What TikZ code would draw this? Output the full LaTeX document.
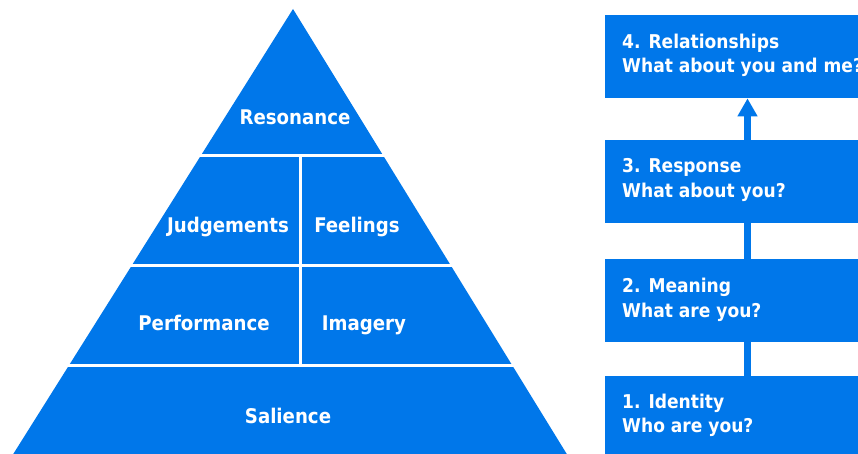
\documentclass[tikz,border=0pt]{standalone}
\usepackage{fontspec}
\setmainfont{DejaVu Sans Condensed}
\usetikzlibrary{arrows.meta}
\definecolor{pblue}{RGB}{0,119,234}
\tikzset{
  x=1pt,y=-1pt,
  gap/.style={draw=white,line width=3pt},
  plabel/.style={text=white,font=\bfseries\fontsize{20.2}{24}\selectfont,inner sep=0pt,anchor=base},
  stage/.style={fill=pblue,draw=none,anchor=north west,minimum width=265pt,inner sep=0pt},
  stagetext/.style={text=white,font=\bfseries\fontsize{19}{24.5}\selectfont,inner sep=0pt,anchor=base west,align=left},
  conn/.style={draw=pblue,line width=7pt},
}
\begin{document}
\begin{tikzpicture}
\useasboundingbox (0,0) rectangle (858,454);
\clip (0,0) rectangle (858,454);
\fill[white] (0,0) rectangle (858,454);
% pyramid
\fill[pblue] (293,9) -- (568,456) -- (12,456) -- cycle;
\draw[gap] (150,155.5) -- (440,155.5);
\draw[gap] (100,265) -- (480,265);
\draw[gap] (40,365) -- (540,365);
\draw[gap] (300,155.5) -- (300,365);
\node[plabel] (res) at (295,125) {Resonance};
\node[plabel] (jud) at (228,233) {Judgements};
\node[plabel] (fee) at (357,233) {Feelings};
\node[plabel] (per) at (204,330) {Performance};
\node[plabel] (ima) at (364,330) {Imagery};
\node[plabel] (sal) at (288,423) {Salience};
% stages
\node[stage,minimum height=83pt] (b4) at (605,15) {};
\node[stage,minimum height=83pt] (b3) at (605,140) {};
\node[stage,minimum height=83pt] (b2) at (605,259) {};
\node[stage,minimum height=90pt] (b1) at (605,376) {};
\node[stagetext] (t4) at (622,73) {4. Relationships\\What about you and me?};
\node[stagetext] (t3) at (622,197) {3. Response\\What about you?};
\node[stagetext] (t2) at (622,317) {2. Meaning\\What are you?};
\node[stagetext] (t1) at (622,432.5) {1. Identity\\Who are you?};
\coordinate (cx) at (747.5,0);
\draw[conn] (cx |- b1.north) -- (cx |- b2.south);
\draw[conn] (cx |- b2.north) -- (cx |- b3.south);
\draw[conn,-{Triangle[width=19pt,length=18pt]}] (cx |- b3.north) -- (cx |- b4.south);
\end{tikzpicture}
\end{document}
